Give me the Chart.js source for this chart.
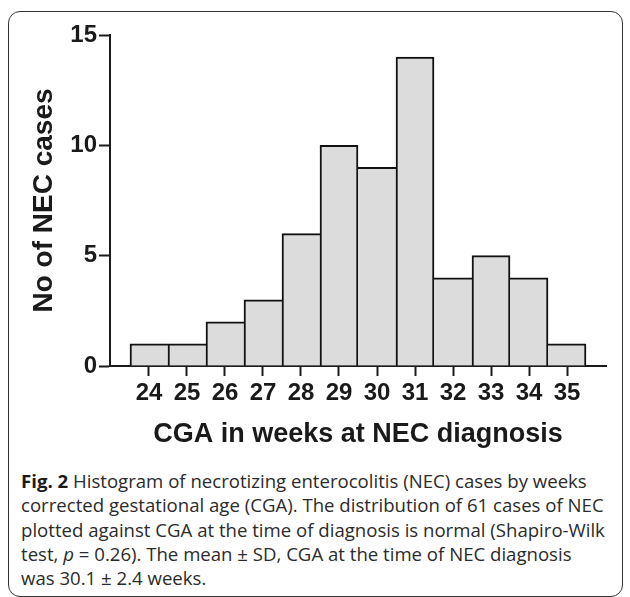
<!DOCTYPE html>
<html>
<head>
<meta charset="utf-8">
<script src="https://cdn.jsdelivr.net/npm/chart.js@4.4.1/dist/chart.umd.min.js"></script>
<style>
  body { margin: 0; background: #fff; }
  #wrap { position: relative; width: 630px; height: 597px; overflow: hidden; }
  #frame {
    position: absolute; left: 8px; top: 11px; width: 615px; height: 586px;
    box-sizing: border-box; border: 1.5px solid #333; border-radius: 12px;
  }
  #chart { position: absolute; left: 0; top: 0; }
  #caption {
    position: absolute; left: 21px; top: 469px; white-space: nowrap;
    font-family: "Open Sans", sans-serif; font-size: 18.6px; line-height: 24.3px; color: #2b2b2b;
  }
  #caption b { font-weight: 700; color: #1a1a1a; }
</style>
</head>
<body>
<div id="wrap">
  <div id="frame"></div>
  <canvas id="chart" width="630" height="460"></canvas>
  <div id="caption">
    <b>Fig. 2</b> Histogram of necrotizing enterocolitis (NEC) cases by weeks<br>
    corrected gestational age (CGA). The distribution of 61 cases of NEC<br>
    plotted against CGA at the time of diagnosis is normal (Shapiro-Wilk<br>
    test, <i>p</i> = 0.26). The mean ± SD, CGA at the time of NEC diagnosis<br>
    was 30.1 ± 2.4 weeks.
  </div>
</div>
<script>
// weeks of corrected gestational age and number of NEC cases in each
const cga_weeks = [24, 25, 26, 27, 28, 29, 30, 31, 32, 33, 34, 35];
const nec_cases = [1, 1, 2, 3, 6, 10, 9, 14, 4, 5, 4, 1];
const y_ticks = [0, 5, 10, 15];

const ink = '#1a1a1a';
const tickFont = { family: "Arial, 'Liberation Sans', sans-serif", size: 24, weight: 'bold' };
const xTitleFont = { family: "Arial, 'Liberation Sans', sans-serif", size: 27, weight: 'bold' };
const yTitleFont = { family: "Arial, 'Liberation Sans', sans-serif", size: 28, weight: 'bold' };

// shared walls between bars drawn once, by the taller bar
function barBorder(ctx) {
  const i = ctx.dataIndex;
  const v = nec_cases[i];
  const prev = i > 0 ? nec_cases[i - 1] : -1;
  const next = i < nec_cases.length - 1 ? nec_cases[i + 1] : -1;
  return { top: 2, bottom: 0, left: v >= prev ? 2 : 0, right: v > next ? 2 : 0 };
}

var ctx = document.getElementById('chart').getContext('2d');
var histChart = new Chart(ctx, {
  type: 'bar',
  data: {
    datasets: [{
      label: 'NEC cases',
      data: cga_weeks.map((w, i) => ({ x: w, y: nec_cases[i] })),
      backgroundColor: '#dcdcdc',
      borderColor: '#111',
      borderWidth: barBorder,
      borderSkipped: false,
      barPercentage: 1,
      categoryPercentage: 1
    }]
  },
  options: {
    responsive: false,
    animation: false,
    layout: { padding: { top: 35, right: 24, bottom: 0, left: 0 } },
    plugins: {
      legend: { display: false },
      tooltip: { enabled: false }
    },
    scales: {
      x: {
        type: 'linear',
        offset: false,
        min: 22.974,
        max: 36.026,
        afterBuildTicks: s => { s.ticks = cga_weeks.map(v => ({ value: v })); },
        afterFit: s => { s.height = 94; },
        border: { display: true, color: ink, width: 2 },
        grid: { display: true, drawOnChartArea: false, offset: false, tickLength: 10, tickWidth: 2, tickColor: ink },
        ticks: { color: ink, font: tickFont, padding: 3, maxRotation: 0, autoSkip: false },
        title: { display: true, text: 'CGA in weeks at NEC diagnosis', color: ink, font: xTitleFont, padding: { top: 0, bottom: 9 } }
      },
      y: {
        min: 0,
        max: 15,
        afterBuildTicks: s => { s.ticks = y_ticks.map(v => ({ value: v })); },
        afterFit: s => { s.width = 110; },
        border: { display: true, color: ink, width: 2 },
        grid: { display: true, drawOnChartArea: false, tickLength: 11, tickWidth: 2, tickColor: ink },
        ticks: { color: ink, font: tickFont, padding: 2 },
        title: { display: true, text: 'No of NEC cases', color: ink, font: yTitleFont, padding: { top: 27, bottom: 0 } }
      }
    }
  }
});
</script>
</body>
</html>
